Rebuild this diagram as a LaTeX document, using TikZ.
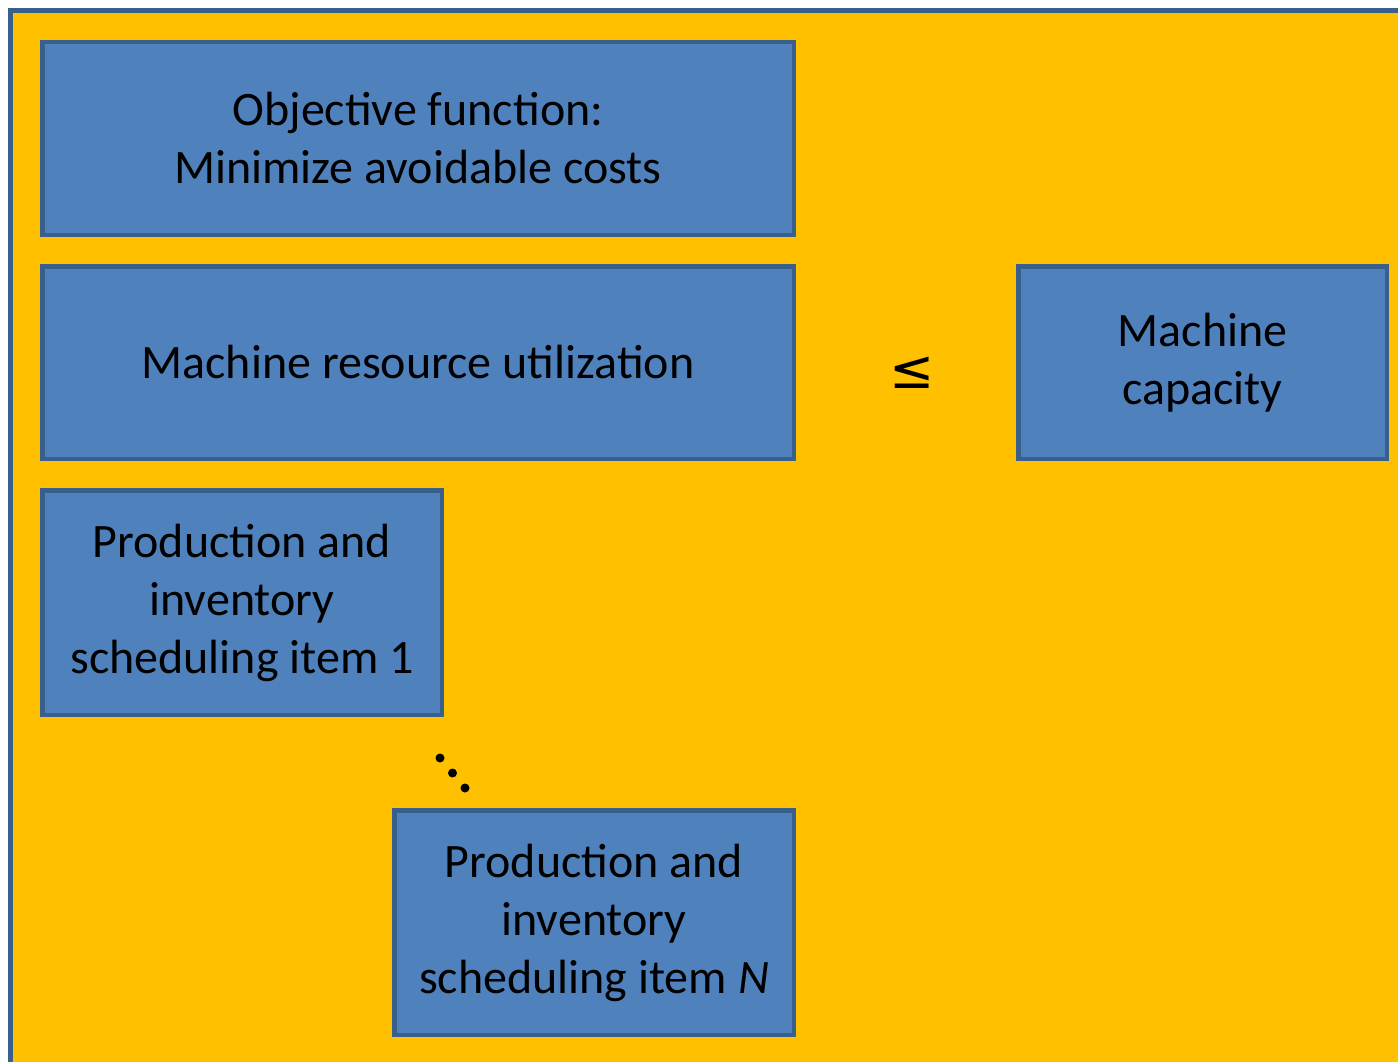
\documentclass[tikz,border=0pt]{standalone}
\usepackage{fontspec}
\setmainfont{Carlito}
\newfontfamily\relfont{DejaVu Sans}
\definecolor{panel}{HTML}{FFC000}
\definecolor{boxfill}{HTML}{4F81BD}
\definecolor{boxline}{HTML}{3A5F8B}
\tikzset{
  blockbox/.style={draw=boxline, fill=boxfill, line width=4.5pt,
    align=center, inner sep=0pt, font=\fontsize{48}{58}\selectfont},
}
\begin{document}
\begin{tikzpicture}[x=1pt,y=-1pt]
  \useasboundingbox (0,0) rectangle (1398,1062);
  \begin{scope}
    \clip (0,0) rectangle (1398,1062);
    \draw[boxline, fill=panel, line width=5pt] (10.5,10.5) rectangle (1430,1090);
  \end{scope}

  \node[blockbox, minimum width=751.5pt, minimum height=192.5pt] (obj) at (418,138.5)
    {Objective function:\\Minimize avoidable costs};
  \node[blockbox, minimum width=751.5pt, minimum height=192.5pt] (util) at (418,362.5)
    {Machine resource utilization};
  \node[blockbox, minimum width=368.5pt, minimum height=192.5pt] (cap) at (1202.5,362.5)
    {Machine\\capacity};
  \node[blockbox, minimum width=399.5pt, minimum height=224.5pt] (item1) at (242,602.5)
    {Production and\\inventory\\scheduling item 1};
  \node[blockbox, minimum width=399.5pt, minimum height=224.5pt] (itemN) at (594,922.5)
    {Production and\\inventory\\scheduling item \textit{N}};

  \node[font=\relfont\fontsize{54}{58}\selectfont, inner sep=0pt] (leq) at (912,373) {≤};

  % diagonal ellipsis between the first and the last item
  \fill (440,758) circle (4.5pt);
  \fill (452.5,773) circle (4.5pt);
  \fill (465,788) circle (4.5pt);
\end{tikzpicture}
\end{document}
